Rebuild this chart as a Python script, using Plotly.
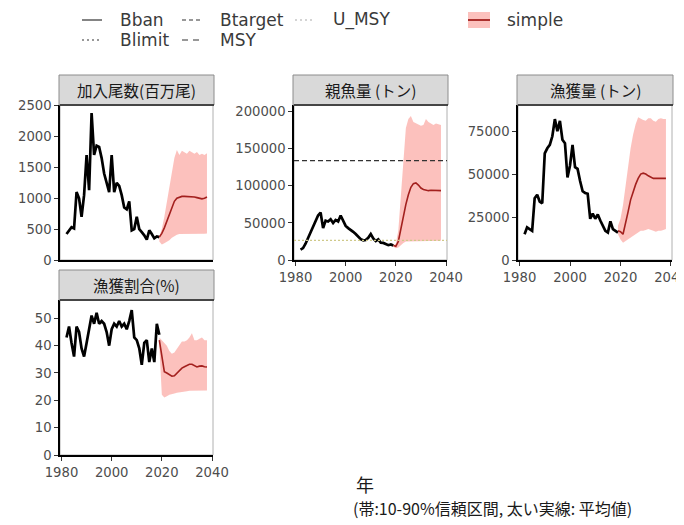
import plotly.graph_objects as go

W, H = 684, 525          # browser window
OX, OY = 8, 8            # default page body margin
FW, FH = W - OX, H - OY  # figure size that fits the window

# ---------------- data ----------------
hist_years = list(range(1982, 2020))
proj_years = list(range(2019, 2039))

rec_hist = [420, 480, 530, 510, 1100, 1000, 700, 1050, 1700, 1130, 2380, 1700, 1850, 1830,
            1650, 1400, 1250, 1100, 1700, 1100, 1250, 1200, 1050, 850, 820, 950, 480, 500,
            700, 500, 450, 400, 330, 480, 420, 350, 380, 370]
rec_mean = [370, 430, 520, 620, 740, 850, 950, 1000, 1020, 1030, 1030, 1030, 1030, 1020,
            1020, 1010, 1000, 990, 1000, 1020]
rec_hi = [380, 500, 700, 950, 1200, 1450, 1650, 1780, 1700, 1770, 1740, 1720, 1770, 1750,
          1720, 1750, 1700, 1720, 1700, 1730]
rec_lo = [300, 250, 270, 290, 320, 360, 390, 410, 420, 420, 425, 425, 430, 425, 425, 430,
          430, 425, 425, 430]

ssb_hist = [14000, 16000, 22000, 30000, 37000, 44000, 52000, 60000, 64000, 43000, 53000,
            52000, 55000, 50000, 54000, 52000, 60000, 52000, 46000, 43000, 41000, 38000,
            35000, 31000, 28000, 26500, 27000, 30000, 35000, 29000, 25500, 27800, 23300,
            23000, 21000, 20000, 21000, 19500]
ssb_mean = [19500, 18500, 25000, 42000, 60000, 75000, 88000, 98000, 103000, 104000, 101000,
            97000, 95000, 94000, 93500, 94000, 94000, 93500, 93500, 93500]
ssb_hi = [20000, 22000, 40000, 90000, 140000, 178000, 190000, 194000, 186000, 184000,
          183000, 181000, 182000, 190000, 186000, 184000, 182000, 184000, 183000, 182000]
ssb_lo = [18000, 16000, 17000, 20000, 23000, 25000, 25500, 26000, 26000, 26000, 26000,
          26000, 26000, 26000, 26000, 26000, 26000, 26000, 26000, 26000]

catch_hist = [15000, 19000, 18000, 17000, 36000, 38000, 34000, 33000, 62000, 65000, 67000,
              72000, 82000, 75000, 81000, 70000, 68000, 48000, 55000, 67000, 54000, 53000,
              46000, 40000, 39000, 38500, 24000, 27000, 24000, 26500, 23000, 20000, 17000,
              16000, 22500, 18000, 17000, 16000]
catch_mean = [17000, 16500, 15000, 21000, 28000, 35000, 40000, 44000, 47500, 50000, 50500,
              50000, 49000, 48000, 47500, 47500, 47500, 47500, 47500, 47500]
catch_hi = [20000, 24000, 32000, 44000, 55000, 65000, 73000, 79000, 83000, 82000, 81500,
            81000, 82500, 82500, 81000, 80500, 82000, 82500, 82000, 82000]
catch_lo = [15000, 12000, 10000, 11000, 12000, 13000, 14000, 15000, 16000, 17000, 17000,
            17500, 18000, 17500, 17000, 16500, 17000, 17000, 17500, 18000]

hr_hist = [43, 47, 41, 36, 47, 45, 39, 36, 41, 46, 51, 48, 52, 48, 49, 48, 45, 40, 46, 48,
           47, 49, 47, 48, 46, 49, 53, 43, 42, 39, 33, 41, 42, 34, 39, 34, 48, 44]
hr_mean = [42, 36, 30.5, 30, 29.5, 28.8, 29, 30, 31, 31.8, 32.3, 32.8, 33.2, 33.2, 32.6,
           32.2, 32.5, 32.6, 32.3, 32.2]
hr_hi = [43, 42, 41, 40, 38, 37, 37.5, 39, 40.5, 41.5, 41.5, 42, 43, 44.5, 42, 42, 42.5,
         43, 42, 42]
hr_lo = [40, 22, 21, 21.5, 22, 22.3, 22.5, 22.8, 23, 23, 23.2, 23.3, 23.5, 23.5, 23.5, 23.6,
         23.6, 23.6, 23.6, 23.6]

btarget = 134000
blimit = 26500

panel_titles = ["加入尾数(百万尾)", "親魚量 (トン)", "漁獲量 (トン)", "漁獲割合(%)"]
x_ticks = [1980, 2000, 2020, 2040]
legend_labels = ["Bban", "Blimit", "Btarget", "MSY", "U_MSY", "simple"]
xlabel = "年"
caption = "(帯:10-90%信頼区間, 太い実線: 平均値)"

# ---------------- layout helpers (window pixels -> paper) ----------------
def fx(p):
    return (p - OX) / FW

def fy(p):
    return 1 - (p - OY) / FH

BAND = "rgba(248,118,109,0.45)"
MEAN = "#a3201e"
TICKFONT = dict(family="DejaVu Sans, Liberation Sans, sans-serif", size=13.2, color="#4d4d4d")
CJK = "Noto Sans CJK JP, sans-serif"

panels = [
    dict(sfx="", x=(60, 213), y=(105, 260), rng=[0, 2510],
         ticks=[0, 500, 1000, 1500, 2000, 2500], xlab=False,
         hist=rec_hist, mean=rec_mean, hi=rec_hi, lo=rec_lo, strip=(75, 105)),
    dict(sfx="2", x=(294, 447), y=(105, 260), rng=[0, 209000],
         ticks=[0, 50000, 100000, 150000, 200000], xlab=True,
         hist=ssb_hist, mean=ssb_mean, hi=ssb_hi, lo=ssb_lo, strip=(75, 105)),
    dict(sfx="3", x=(518, 672), y=(105, 260), rng=[0, 90200],
         ticks=[0, 25000, 50000, 75000], xlab=True,
         hist=catch_hist, mean=catch_mean, hi=catch_hi, lo=catch_lo, strip=(75, 105)),
    dict(sfx="4", x=(60, 213), y=(300, 455), rng=[0, 56.7],
         ticks=[0, 10, 20, 30, 40, 50], xlab=True,
         hist=hr_hist, mean=hr_mean, hi=hr_hi, lo=hr_lo, strip=(270, 300)),
]

fig = go.Figure()
shapes = []
annotations = []
layout_axes = {}

for i, p in enumerate(panels):
    s = p["sfx"]
    xr = "x" + s
    yr = "y" + s
    # band
    fig.add_trace(go.Scatter(
        x=proj_years + proj_years[::-1], y=p["hi"] + p["lo"][::-1],
        fill="toself", fillcolor=BAND, line=dict(width=0), mode="lines",
        hoverinfo="skip", showlegend=False, xaxis=xr, yaxis=yr))
    # historical
    fig.add_trace(go.Scatter(
        x=hist_years, y=p["hist"], mode="lines",
        line=dict(color="black", width=2.7), showlegend=False, xaxis=xr, yaxis=yr))
    # projection mean
    fig.add_trace(go.Scatter(
        x=proj_years, y=p["mean"], mode="lines",
        line=dict(color=MEAN, width=1.6), showlegend=False, xaxis=xr, yaxis=yr))

    layout_axes["xaxis" + s] = dict(
        domain=[fx(p["x"][0]), fx(p["x"][1])], range=[1979.4, 2040.4],
        anchor=yr, tickvals=x_ticks, showticklabels=p["xlab"],
        ticks="outside" if p["xlab"] else "", ticklen=4, tickcolor="#333",
        showline=True, linecolor="black", linewidth=1.5, showgrid=False,
        zeroline=False, tickfont=TICKFONT, fixedrange=True, automargin=False,
        ticklabeloverflow="allow")
    layout_axes["yaxis" + s] = dict(
        domain=[fy(p["y"][1]), fy(p["y"][0])], range=p["rng"],
        anchor=xr, tickvals=p["ticks"], tickformat="d", ticks="outside",
        ticklen=4, tickcolor="#333", showline=True, linecolor="black",
        linewidth=1.5, showgrid=False, zeroline=False, tickfont=TICKFONT,
        fixedrange=True, automargin=False)

    # panel border (top / right)
    shapes.append(dict(type="rect", xref="paper", yref="paper",
                       x0=fx(p["x"][0]), x1=fx(p["x"][1]),
                       y0=fy(p["y"][1]), y1=fy(p["y"][0]),
                       line=dict(color="#b0b0b0", width=1), layer="below"))
    # strip
    shapes.append(dict(type="rect", xref="paper", yref="paper",
                       x0=fx(p["x"][0] - 1), x1=fx(p["x"][1] + 1),
                       y0=fy(p["strip"][1]), y1=fy(p["strip"][0]),
                       fillcolor="#d9d9d9", line=dict(color="#8c8c8c", width=1)))
    shapes.append(dict(type="line", xref="paper", yref="paper",
                       x0=fx(p["x"][0]), x1=fx(p["x"][1] + 1),
                       y0=fy(p["strip"][1]), y1=fy(p["strip"][1]),
                       line=dict(color="#222", width=1.5)))
    annotations.append(dict(
        text=panel_titles[i], xref="paper", yref="paper",
        x=fx((p["x"][0] + p["x"][1]) / 2), y=fy((p["strip"][0] + p["strip"][1]) / 2),
        showarrow=False, xanchor="center", yanchor="middle",
        font=dict(family=CJK, size=15.5, color="#1a1a1a")))

# reference lines in SSB panel
shapes.append(dict(type="line", xref="x2 domain", yref="y2", x0=0, x1=1,
                   y0=btarget, y1=btarget, line=dict(color="#333", width=1.1, dash="5px,3px")))
shapes.append(dict(type="line", xref="x2 domain", yref="y2", x0=0, x1=1,
                   y0=blimit, y1=blimit, line=dict(color="#cfc98a", width=1.1, dash="2px,2px")))

# ---------------- legend (drawn manually) ----------------
LEGFONT = dict(family="DejaVu Sans, Liberation Sans, sans-serif", size=17, color="#3a3a3a")
leg_items = [
    ("Bban", 82, 20, "solid", "#333"),
    ("Blimit", 82, 40, "2px,3px", "#333"),
    ("Btarget", 182, 20, "4px,3px", "#333"),
    ("MSY", 182, 40, "6px,5px", "#333"),
    ("U_MSY", 295, 20, "2px,3px", "#aaa"),
]
for lab, x0, yc, dash, col in leg_items:
    shapes.append(dict(type="line", xref="paper", yref="paper",
                       x0=fx(x0), x1=fx(x0 + 20), y0=fy(yc), y1=fy(yc),
                       line=dict(color=col, width=1.2, dash=dash)))
    annotations.append(dict(text=lab, xref="paper", yref="paper",
                            x=fx(x0 + 36), y=fy(yc), xanchor="left", yanchor="middle",
                            showarrow=False, font=LEGFONT))
shapes.append(dict(type="rect", xref="paper", yref="paper",
                   x0=fx(468), x1=fx(490), y0=fy(28), y1=fy(12),
                   fillcolor=BAND, line=dict(width=0)))
shapes.append(dict(type="line", xref="paper", yref="paper",
                   x0=fx(468), x1=fx(490), y0=fy(20), y1=fy(20),
                   line=dict(color=MEAN, width=1.8)))
annotations.append(dict(text="simple", xref="paper", yref="paper",
                        x=fx(505), y=fy(20), xanchor="left", yanchor="middle",
                        showarrow=False, font=LEGFONT))

# axis title and caption
annotations.append(dict(text=xlabel, xref="paper", yref="paper",
                        x=fx(365), y=fy(484), xanchor="center", yanchor="middle",
                        showarrow=False, font=dict(family=CJK, size=18, color="#1a1a1a")))
annotations.append(dict(text=caption, xref="paper", yref="paper",
                        x=fx(492), y=fy(508), xanchor="center", yanchor="middle",
                        showarrow=False, font=dict(family=CJK, size=16, color="#1a1a1a")))

fig.update_layout(
    width=FW, height=FH, margin=dict(l=0, r=0, t=0, b=0, autoexpand=False),
    paper_bgcolor="white", plot_bgcolor="white",
    showlegend=False, shapes=shapes, annotations=annotations,
    **layout_axes)

fig.write_html("out.html")
